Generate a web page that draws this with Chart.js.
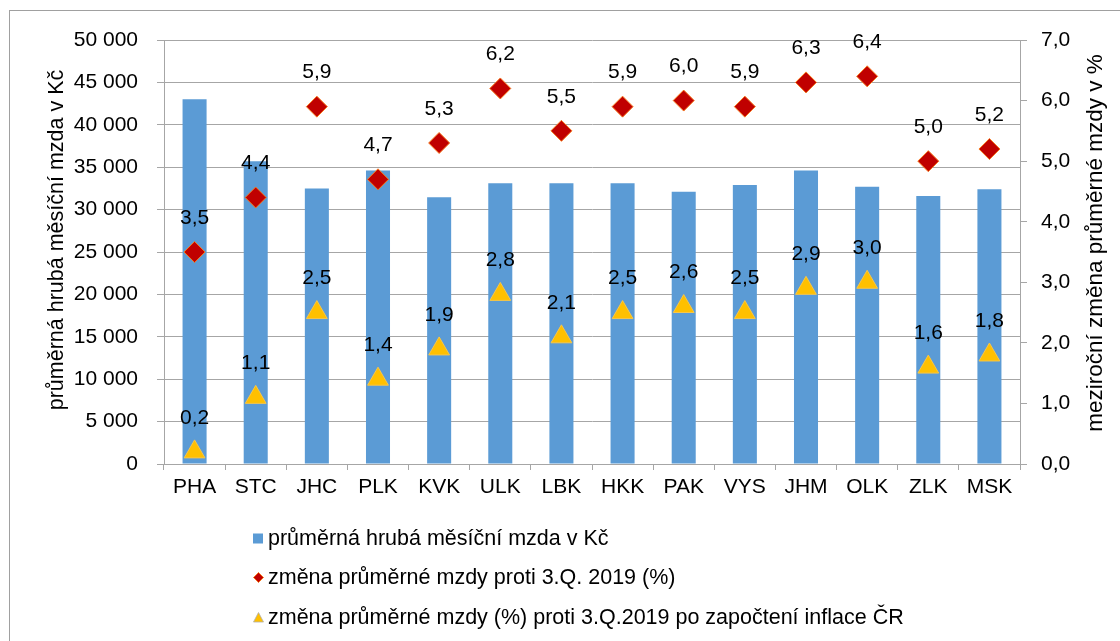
<!DOCTYPE html>
<html>
<head>
<meta charset="utf-8">
<script src="https://cdn.jsdelivr.net/npm/chart.js@4/dist/chart.umd.min.js"></script>
<style>
html,body{margin:0;padding:0;background:#fff;}
#wrap{position:relative;width:1120px;height:641px;overflow:hidden;font-family:"Liberation Sans",Arial,sans-serif;}
#frame{position:absolute;left:9px;top:10px;width:1200px;height:700px;border-left:1px solid #a0a0a0;border-top:1px solid #a0a0a0;box-sizing:border-box;}
#chart{position:absolute;left:0;top:0;}
.row{position:absolute;left:253px;height:30px;display:flex;align-items:center;font-size:21.5px;color:#000;white-space:nowrap;}
.row svg{flex:none;margin-right:4px;}
</style>
</head>
<body>
<div id="wrap">
  <div id="frame"></div>
  <canvas id="chart" width="1120" height="641"></canvas>
  <div id="legend"></div>
</div>
<script>
// ---- data ----
const categories = ['PHA','STC','JHC','PLK','KVK','ULK','LBK','HKK','PAK','VYS','JHM','OLK','ZLK','MSK'];
const wageValues = [43000, 35700, 32500, 34600, 31450, 33100, 33100, 33100, 32100, 32900, 34600, 32700, 31600, 32400];
const changeValues = [3.5, 4.4, 5.9, 4.7, 5.3, 6.2, 5.5, 5.9, 6.0, 5.9, 6.3, 6.4, 5.0, 5.2];
const realChangeValues = [0.2, 1.1, 2.5, 1.4, 1.9, 2.8, 2.1, 2.5, 2.6, 2.5, 2.9, 3.0, 1.6, 1.8];
const seriesNames = [
  'průměrná hrubá měsíční mzda v Kč',
  'změna průměrné mzdy proti 3.Q. 2019 (%)',
  'změna průměrné mzdy (%) proti 3.Q.2019 po započtení inflace ČR'
];
const leftAxisTitle = 'průměrná hrubá měsíční mzda v Kč';
const rightAxisTitle = 'meziroční změna průměrné mzdy v %';
const leftAxisRange = [0, 50000, 5000];
const rightAxisRange = [0, 7, 1];

// ---- helpers ----
const FONT = '"Liberation Sans", Arial, sans-serif';
const fmtThousands = v => String(Math.round(v)).replace(/\B(?=(\d{3})+(?!\d))/g, ' ');
const fmtDec = v => Number(v).toFixed(1).replace('.', ',');
const GRID = '#a6a6a6';

const valueLabels = {
  id: 'valueLabels',
  afterDatasetsDraw(chart) {
    const ctx = chart.ctx;
    ctx.save();
    ctx.font = '21px ' + FONT;
    ctx.fillStyle = '#000';
    ctx.textAlign = 'center';
    ctx.textBaseline = 'middle';
    [1, 2].forEach(di => {
      const meta = chart.getDatasetMeta(di);
      meta.data.forEach((el, i) => {
        ctx.fillText(fmtDec(chart.data.datasets[di].data[i]), el.x, el.y - 34);
      });
    });
    ctx.restore();
  }
};

const axisTitles = {
  id: 'axisTitles',
  afterDraw(chart) {
    const ctx = chart.ctx;
    const a = chart.chartArea;
    const cy = (a.top + a.bottom) / 2 - 12;
    ctx.save();
    ctx.fillStyle = '#000';
    ctx.textAlign = 'center';
    ctx.textBaseline = 'middle';
    ctx.save();
    ctx.font = '21.5px ' + FONT;
    ctx.translate(57, cy);
    ctx.rotate(-Math.PI / 2);
    ctx.fillText(leftAxisTitle, 0, 0);
    ctx.restore();
    ctx.save();
    ctx.font = '22.5px ' + FONT;
    ctx.translate(1096, cy + 3);
    ctx.rotate(-Math.PI / 2);
    ctx.fillText(rightAxisTitle, 0, 0);
    ctx.restore();
    ctx.restore();
  }
};

const tickFont = { size: 21, family: FONT };

const chart = new Chart(document.getElementById('chart'), {
  type: 'bar',
  data: {
    labels: categories,
    datasets: [
      {
        type: 'bar',
        label: seriesNames[0],
        data: wageValues,
        backgroundColor: '#5b9bd5',
        borderWidth: 0,
        yAxisID: 'y',
        order: 3,
        categoryPercentage: 1,
        barPercentage: 0.393
      },
      {
        type: 'line',
        label: seriesNames[1],
        data: changeValues,
        showLine: false,
        pointStyle: 'rectRot',
        pointRadius: 10.5,
        pointHoverRadius: 10.5,
        backgroundColor: '#c00000',
        borderColor: '#f5791f',
        pointBorderWidth: 1,
        yAxisID: 'y1',
        order: 1
      },
      {
        type: 'line',
        label: seriesNames[2],
        data: realChangeValues,
        showLine: false,
        pointStyle: 'triangle',
        pointRadius: 12,
        pointHoverRadius: 12,
        backgroundColor: '#ffc000',
        borderColor: '#f7c64a',
        pointBorderWidth: 1,
        yAxisID: 'y1',
        order: 2
      }
    ]
  },
  options: {
    responsive: false,
    animation: false,
    devicePixelRatio: 1,
    events: [],
    layout: { padding: { top: 40, left: 0, right: 0, bottom: 0 } },
    plugins: { legend: { display: false }, tooltip: { enabled: false } },
    scales: {
      x: {
        grid: { display: true, drawOnChartArea: false, drawTicks: true, tickLength: 6, color: GRID, offset: true },
        border: { display: true, color: GRID, width: 1 },
        ticks: { font: tickFont, color: '#000', padding: 5, maxRotation: 0, autoSkip: false },
        afterFit(s) { s.height = 177; }
      },
      y: {
        position: 'left',
        min: leftAxisRange[0], max: leftAxisRange[1],
        ticks: { stepSize: leftAxisRange[2], callback: v => fmtThousands(v), padding: 19, font: tickFont, color: '#000' },
        grid: { color: GRID, tickLength: 7 },
        border: { color: GRID },
        afterFit(s) { s.width = 164; }
      },
      y1: {
        position: 'right',
        min: rightAxisRange[0], max: rightAxisRange[1],
        ticks: { stepSize: rightAxisRange[2], callback: v => fmtDec(v), padding: 14, font: tickFont, color: '#000' },
        grid: { drawOnChartArea: false, tickLength: 7, color: GRID },
        border: { color: GRID },
        afterFit(s) { s.width = 100; }
      }
    }
  },
  plugins: [valueLabels, axisTitles]
});

// ---- HTML legend built from the chart's datasets ----
(function buildLegend() {
  const legend = document.getElementById('legend');
  const rowTops = [523, 562, 602];
  chart.data.datasets.forEach((ds, i) => {
    const row = document.createElement('div');
    row.className = 'row';
    row.style.top = rowTops[i] + 'px';
    let svg;
    if (ds.type === 'bar') {
      svg = `<svg width="11" height="11"><rect x="0" y="0.5" width="10" height="10" fill="${ds.backgroundColor}"/></svg>`;
    } else if (ds.pointStyle === 'rectRot') {
      svg = `<svg width="11" height="11"><polygon points="5.5,0.5 10.5,5.5 5.5,10.5 0.5,5.5" fill="${ds.backgroundColor}" stroke="${ds.borderColor}" stroke-width="1"/></svg>`;
    } else {
      svg = `<svg width="11" height="11"><polygon points="5.5,0.5 10.5,10 0.5,10" fill="${ds.backgroundColor}" stroke="#b0b0b0" stroke-width="0.8"/></svg>`;
    }
    row.innerHTML = svg + '<span>' + ds.label + '</span>';
    legend.appendChild(row);
  });
})();
</script>
</body>
</html>
